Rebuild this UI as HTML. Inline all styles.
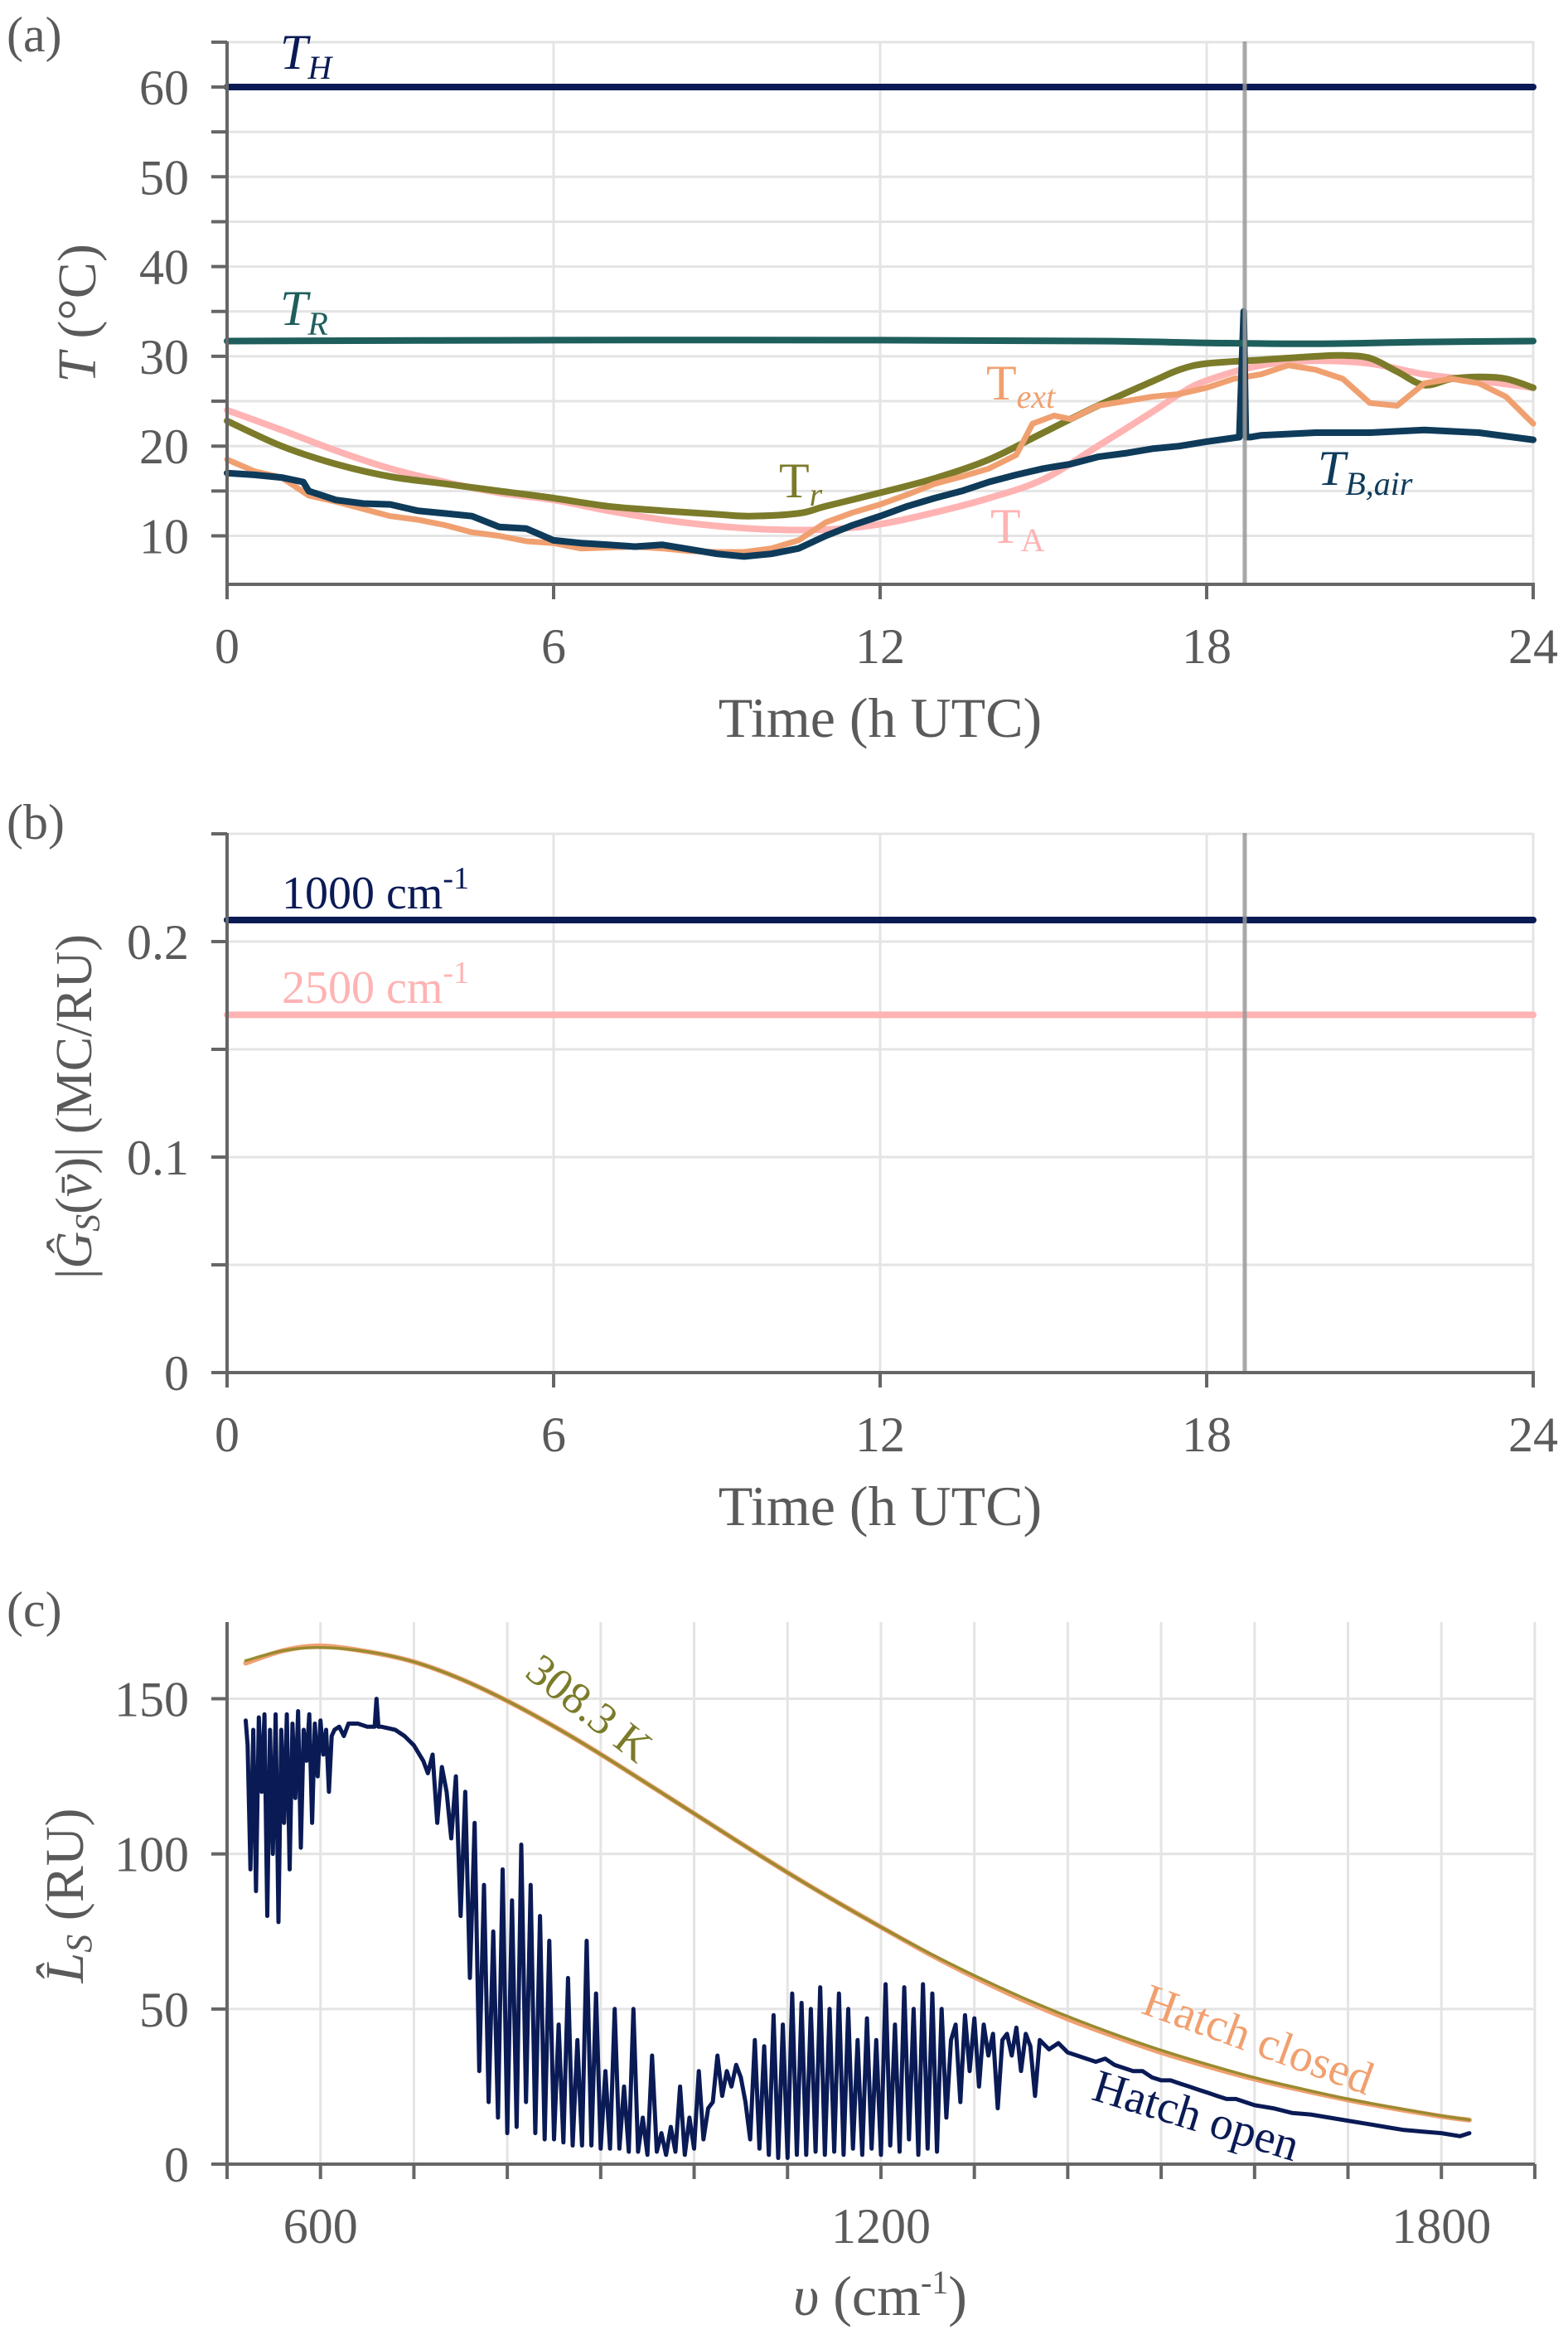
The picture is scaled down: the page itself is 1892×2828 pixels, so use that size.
<!DOCTYPE html>
<html><head><meta charset="utf-8"><style>
html,body{margin:0;padding:0;background:#fff}
svg{display:block}
text{font-family:"Liberation Serif",serif;fill:#5a5a5a}
</style></head><body>
<svg id="fig" width="1892" height="2828" viewBox="0 0 1892 2828" xmlns="http://www.w3.org/2000/svg">
<g id="ga"></g>
<g id="gb"></g>
<g id="gc"></g>
</svg>
<script>
// ---------- Panel (a) data ----------
const trHours = [0,1,2,3,4,5,6,7,8,9,9.6,10.5,11,12,13,14,15,16,17,17.5,18,19,20,20.5,21,21.5,22,22.5,23,23.5,24];
const trVals  = [22.8,20,18,16.6,15.8,15,14.2,13.3,12.8,12.4,12.2,12.5,13.3,14.8,16.4,18.5,21.5,24.5,27.2,28.5,29.2,29.6,30,30.1,29.8,28.3,26.8,27.5,27.7,27.5,26.5];
const taHours = [0,1,2,3,4,5,6,7,8,9,10,11,12,13,14,15,16,17,17.5,18,19,20,21,22,23,24];
const taVals  = [24,21.8,19.5,17.5,16,14.8,14,12.8,11.8,11.1,10.7,10.7,11.3,12.6,14.2,16.3,20,23.8,25.8,27.3,29,29.5,29.2,28,27.3,26.5];
const textHours = [0,0.5,1,1.5,2,2.5,3,3.5,4,4.5,5,5.5,6,6.5,7,7.5,8,8.5,9,9.5,10,10.5,11,11.5,12,12.5,13,13.5,14,14.5,14.8,15.2,15.5,16,16.5,17,17.5,18,18.5,19,19.5,20,20.5,21,21.5,22,22.5,23,23.5,24];
const textVals  = [18.5,17.2,16.5,14.5,13.8,13,12.2,11.8,11.2,10.4,10,9.4,9.2,8.6,8.7,8.8,8.6,8.3,8.2,8.2,8.6,9.5,11.5,12.6,13.5,14.6,15.8,16.6,17.5,19,22.5,23.4,23,24.5,25,25.5,25.8,26.5,27.5,28,29,28.5,27.5,24.8,24.5,27,27.5,27,25.5,22.5];
const tbHours = [0,0.5,1,1.4,1.5,2,2.5,3,3.5,4,4.5,5,5.5,6,6.5,7,7.5,8,8.5,9,9.5,10,10.5,11,11.5,12,12.5,13,13.5,14,14.5,15,15.5,16,16.5,17,17.5,18,18.6,18.68,18.72,18.8,19,20,21,22,23,24];
const tbVals  = [17,16.8,16.5,16,15,14,13.6,13.5,12.8,12.5,12.2,11,10.8,9.5,9.2,9,8.8,9,8.5,8,7.7,8,8.6,10,11.2,12.2,13.3,14.2,15,16,16.8,17.5,18,18.8,19.2,19.7,20,20.5,21,35,21,21,21.2,21.5,21.5,21.8,21.5,20.7];
const trRefHours = [0,6,12,16,18,20,22,24];
const trRefVals  = [31.7,31.8,31.8,31.7,31.5,31.4,31.6,31.7];
const thHours = [0,24];
const thVals  = [60,60];
const tempTicks = [10,20,30,40,50,60];
const hourTicks = [0,6,12,18,24];
const filterHour = 18.7;
// ---------- Panel (b) data ----------
const g1000Hours = [0,24];
const g1000Vals = [0.210,0.210];
const g2500Hours = [0,24];
const g2500Vals = [0.166,0.166];
const gTicks = [0,0.1,0.2];
const gTickLabels = ["0","0.1","0.2"];
// ---------- Panel (c) data ----------
const bbNu = [520,560,600,650,700,750,800,850,900,950,1000,1050,1100,1150,1200,1250,1300,1350,1400,1450,1500,1550,1600,1650,1700,1750,1800,1830];
const bbVals = [162.3,165.5,166.5,165.2,161.9,156.4,149.3,141.1,132.1,122.6,113.0,103.4,94.0,85.0,76.4,68.3,60.8,53.9,47.6,41.9,36.7,32.1,27.9,24.3,21.0,18.2,15.6,14.3];
const closedNu = [520,560,600,650,700,750,800,850,900,950,1000,1050,1100,1150,1200,1250,1300,1350,1400,1450,1500,1550,1600,1650,1700,1750,1800,1830];
const closedVals = [161.5,165.5,167,165.2,161.9,156.4,149.3,141.1,132.1,122.6,113.0,103.4,94.0,85.0,76.4,68.0,60.3,53.2,46.8,41.2,36.0,31.5,27.4,23.9,20.7,17.9,15.4,14.2];
const openNu = [520,522,525,528,531,534,537,540,543,546,549,552,555,558,561,564,567,570,573,576,579,582,585,588,591,594,597,600,603,606,609,612,615,620,625,630,640,650,658,660,662,665,680,690,700,710,715,720,725,730,735,740,745,750,755,760,765,770,775,780,785,790,795,800,805,810,815,820,825,830,835,840,845,850,855,860,865,870,875,880,885,890,895,900,905,910,915,920,925,930,935,940,945,950,955,960,965,970,975,980,985,990,995,1000,1005,1010,1015,1020,1025,1030,1035,1040,1045,1050,1055,1060,1065,1070,1075,1080,1085,1090,1095,1100,1105,1110,1115,1120,1125,1130,1135,1140,1145,1150,1155,1160,1165,1170,1175,1180,1185,1190,1195,1200,1205,1210,1215,1220,1225,1230,1235,1240,1245,1250,1255,1260,1265,1270,1275,1280,1285,1290,1295,1300,1305,1310,1315,1320,1325,1330,1335,1340,1345,1350,1355,1360,1365,1370,1380,1390,1400,1410,1420,1430,1440,1450,1460,1470,1480,1490,1500,1510,1520,1530,1540,1550,1560,1570,1580,1600,1620,1640,1660,1680,1700,1720,1740,1760,1780,1800,1820,1830];
const openVals = [143,135,95,140,88,144,120,145,80,140,100,145,78,140,110,145,95,142,118,146,102,140,130,145,110,142,125,143,132,140,120,138,140,141,138,142,142,141,141,150,141,141,140,138,135,130,126,132,110,128,120,105,125,80,120,60,110,30,90,20,75,15,95,10,85,12,103,20,90,10,80,8,72,8,45,7,60,6,40,6,72,6,55,5,30,5,50,5,25,4,50,4,15,3,35,4,10,3,12,4,25,3,15,5,30,8,18,20,35,22,30,25,32,28,20,8,40,5,38,3,48,2,45,2,55,3,52,3,50,4,57,3,50,4,55,3,50,5,40,3,47,5,40,3,58,6,45,4,57,8,50,3,58,5,55,4,50,15,40,45,20,48,30,47,25,45,35,42,18,40,42,35,44,30,42,38,22,40,37,39,36,35,34,33,34,32,31,30,30,28,27,27,26,25,24,23,22,21,21,19,18,16.5,16,15,14,13,12,11,10.5,10,9,10];
const nuTicks = [500,600,700,800,900,1000,1100,1200,1300,1400,1500,1600,1700,1800,1900];
const nuLabels = [600,1200,1800];
const lTicks = [0,50,100,150];

const NS="http://www.w3.org/2000/svg";
function mk(parent,tag,attrs){const e=document.createElementNS(NS,tag);for(const k in attrs)e.setAttribute(k,attrs[k]);parent.appendChild(e);return e;}
function smoothPath(pts){let d="M"+pts[0][0].toFixed(1)+","+pts[0][1].toFixed(1);
 for(let i=0;i<pts.length-1;i++){const p0=pts[i-1]||pts[i],p1=pts[i],p2=pts[i+1],p3=pts[i+2]||p2;
  const c1x=p1[0]+(p2[0]-p0[0])/6,c1y=p1[1]+(p2[1]-p0[1])/6,c2x=p2[0]-(p3[0]-p1[0])/6,c2y=p2[1]-(p3[1]-p1[1])/6;
  d+=" C"+c1x.toFixed(1)+","+c1y.toFixed(1)+" "+c2x.toFixed(1)+","+c2y.toFixed(1)+" "+p2[0].toFixed(1)+","+p2[1].toFixed(1);}
 return d;}
function linePath(pts){return "M"+pts.map(p=>p[0].toFixed(1)+","+p[1].toFixed(1)).join(" L");}
const AX="#666", GRID="#e4e4e4";

// ===== Panel a =====
const ga=document.getElementById('ga');
const xa=h=>274+h*(1576/24);
const ya=t=>105+(60-t)*10.83;
for(let t=10;t<=65;t+=5){const l=mk(ga,'line',{x1:274,x2:1850,y1:ya(t),y2:ya(t),stroke:GRID,'stroke-width':3});
 
 }
for(const h of hourTicks.slice(1)){const l=mk(ga,'line',{x1:xa(h),x2:xa(h),y1:50,y2:705,stroke:GRID,'stroke-width':3});
 
 }
function addSeries(g,xs,ys,fx,fy,color,w,name,smooth){
 const pts=xs.map((x,i)=>[fx(x),fy(ys[i])]);
 const p=mk(g,'path',{d:smooth?smoothPath(pts):linePath(pts),fill:'none',stroke:color,'stroke-width':w,'stroke-linejoin':'round','stroke-linecap':'round'});
 
 
 return p;}
addSeries(ga,taHours,taVals,xa,ya,'#ffb3b3',8,'series-t-a',true);
addSeries(ga,trHours,trVals,xa,ya,'#7b7b2a',8,'series-t-r',true);
addSeries(ga,textHours,textVals,xa,ya,'#f0a070',7,'series-t-ext',false);
addSeries(ga,tbHours,tbVals,xa,ya,'#0f3b5a',8,'series-t-b-air',false);
addSeries(ga,trRefHours,trRefVals,xa,ya,'#1e5e5c',8,'series-t-r-ref',true);
addSeries(ga,thHours,thVals,xa,ya,'#0a1a55',8,'series-t-h',false);
{const l=mk(ga,'line',{x1:xa(filterHour),x2:xa(filterHour),y1:50,y2:705,stroke:'#999',"stroke-width":5,opacity:0.85});
 
 }
mk(ga,'line',{x1:274,x2:274,y1:50,y2:705,stroke:AX,'stroke-width':4});
mk(ga,'line',{x1:272,x2:1852,y1:705,y2:705,stroke:AX,'stroke-width':4});
for(let t=10;t<=65;t+=5){mk(ga,'line',{x1:255,x2:274,y1:ya(t),y2:ya(t),stroke:AX,'stroke-width':4});}
for(const t of tempTicks){const tx=mk(ga,'text',{x:228,y:ya(t)+21,'text-anchor':'end','font-size':60});tx.textContent=t;
 
 }
for(const h of hourTicks){mk(ga,'line',{x1:xa(h),x2:xa(h),y1:705,y2:723,stroke:AX,'stroke-width':4});
 const tx=mk(ga,'text',{x:xa(h),y:800,'text-anchor':'middle','font-size':60});tx.textContent=h;
 
 }

// ===== Panel b =====
const gb=document.getElementById('gb');
const yb=g=>1656-g*2600;
for(let g=0.05;g<=0.251;g+=0.05){const l=mk(gb,'line',{x1:274,x2:1850,y1:yb(g),y2:yb(g),stroke:GRID,'stroke-width':3});
 
 }
for(const h of hourTicks.slice(1)){mk(gb,'line',{x1:xa(h),x2:xa(h),y1:1005,y2:1656,stroke:GRID,'stroke-width':3});}
addSeries(gb,g2500Hours,g2500Vals,xa,yb,'#ffb3b3',8,'series-2500',false);
addSeries(gb,g1000Hours,g1000Vals,xa,yb,'#0a1a55',8,'series-1000',false);
mk(gb,'line',{x1:xa(filterHour),x2:xa(filterHour),y1:1005,y2:1656,stroke:'#999','stroke-width':5,opacity:0.85});
mk(gb,'line',{x1:274,x2:274,y1:1005,y2:1656,stroke:AX,'stroke-width':4});
mk(gb,'line',{x1:272,x2:1852,y1:1656,y2:1656,stroke:AX,'stroke-width':4});
for(let g=0;g<=0.251;g+=0.05){mk(gb,'line',{x1:255,x2:274,y1:yb(g),y2:yb(g),stroke:AX,'stroke-width':4});}
gTicks.forEach((g,i)=>{const tx=mk(gb,'text',{x:228,y:yb(g)+21,'text-anchor':'end','font-size':60});tx.textContent=gTickLabels[i];
 
 });
for(const h of hourTicks){mk(gb,'line',{x1:xa(h),x2:xa(h),y1:1656,y2:1674,stroke:AX,'stroke-width':4});
 const tx=mk(gb,'text',{x:xa(h),y:1751,'text-anchor':'middle','font-size':60});tx.textContent=h;
 
 }

// ===== Panel c =====
const gc=document.getElementById('gc');
const xc=v=>274+(v-500)*1.1271;
const yc=l=>2611-l*3.743;
for(const l of lTicks.slice(1)){mk(gc,'line',{x1:274,x2:1850,y1:yc(l),y2:yc(l),stroke:GRID,'stroke-width':3});}
for(const v of nuTicks.slice(1)){mk(gc,'line',{x1:xc(v),x2:xc(v),y1:1957,y2:2611,stroke:GRID,'stroke-width':3});}
addSeries(gc,closedNu,closedVals,xc,yc,'#f0a070',6,'series-hatch-closed',true);
addSeries(gc,openNu,openVals,xc,yc,'#0a1a55',5,'series-hatch-open',false);
addSeries(gc,bbNu,bbVals,xc,yc,'#9a8a30',3.5,'series-blackbody',true);
mk(gc,'line',{x1:274,x2:274,y1:1957,y2:2611,stroke:AX,'stroke-width':4});
mk(gc,'line',{x1:272,x2:1852,y1:2611,y2:2611,stroke:AX,'stroke-width':4});
for(const l of lTicks){mk(gc,'line',{x1:255,x2:274,y1:yc(l),y2:yc(l),stroke:AX,'stroke-width':4});
 const tx=mk(gc,'text',{x:228,y:yc(l)+21,'text-anchor':'end','font-size':60});tx.textContent=l;
 
 }
for(const v of nuTicks){mk(gc,'line',{x1:xc(v),x2:xc(v),y1:2611,y2:2629,stroke:AX,'stroke-width':4});}
for(const v of nuLabels){const tx=mk(gc,'text',{x:xc(v),y:2706,'text-anchor':'middle','font-size':60});tx.textContent=v;
 
 }
</script>
<svg style="position:absolute;left:0;top:0" width="1892" height="2828" viewBox="0 0 1892 2828" xmlns="http://www.w3.org/2000/svg">
<text x="8" y="62" font-size="60">(a)</text>
<text x="8" y="1012" font-size="60">(b)</text>
<text x="8" y="1962" font-size="60">(c)</text>
<text transform="translate(115,378) rotate(-90)" text-anchor="middle" font-size="66"><tspan font-style="italic">T</tspan> (°C)</text>
<text x="1062" y="889" text-anchor="middle" font-size="68">Time (h UTC)</text>
<text transform="translate(110,1335) rotate(-90)" text-anchor="middle" font-size="62">|<tspan font-style="italic">Ĝ</tspan><tspan font-size="42" dy="10" font-style="italic">S</tspan><tspan dy="-10">(</tspan><tspan font-style="italic">v̄</tspan>)| (MC/RU)</text>
<text x="1062" y="1840" text-anchor="middle" font-size="68">Time (h UTC)</text>
<text transform="translate(100,2287) rotate(-90)" text-anchor="middle" font-size="66"><tspan font-style="italic">L̂</tspan><tspan font-size="44" dy="10" font-style="italic">S</tspan><tspan dy="-10"> (RU)</tspan></text>
<text x="1062" y="2793" text-anchor="middle" font-size="68"><tspan font-style="italic">υ</tspan> (cm<tspan font-size="40" dy="-26">-1</tspan><tspan dy="26">)</tspan></text>
<text x="338" y="83" font-size="60" style="fill:#0a1a55"><tspan font-style="italic">T</tspan><tspan font-size="40" dy="12" font-style="italic">H</tspan></text>
<text x="338" y="392" font-size="60" style="fill:#1e5e5c"><tspan font-style="italic">T</tspan><tspan font-size="40" dy="12" font-style="italic">R</tspan></text>
<text x="1190" y="482" font-size="60" style="fill:#f0a070">T<tspan font-size="40" dy="10" font-style="italic">ext</tspan></text>
<text x="940" y="600" font-size="60" style="fill:#7b7b2a">T<tspan font-size="40" dy="10" font-style="italic">r</tspan></text>
<text x="1195" y="655" font-size="60" style="fill:#ffb3b3">T<tspan font-size="40" dy="10">A</tspan></text>
<text x="1590" y="585" font-size="60" style="fill:#0f3b5a"><tspan font-style="italic">T</tspan><tspan font-size="40" dy="12" font-style="italic">B,air</tspan></text>
<text x="340" y="1096" font-size="56" style="fill:#0a1a55">1000 cm<tspan font-size="38" dy="-24">-1</tspan></text>
<text x="340" y="1210" font-size="56" style="fill:#ffb3b3">2500 cm<tspan font-size="38" dy="-24">-1</tspan></text>
<text transform="translate(700,2075) rotate(38)" text-anchor="middle" font-size="54" style="fill:#7b7b2a">308.3 K</text>
<text transform="translate(1512,2478) rotate(20)" text-anchor="middle" font-size="56" style="fill:#f0a070">Hatch closed</text>
<text transform="translate(1438,2570) rotate(17)" text-anchor="middle" font-size="56" style="fill:#0a1a55">Hatch open</text>
</svg>
</body></html>
